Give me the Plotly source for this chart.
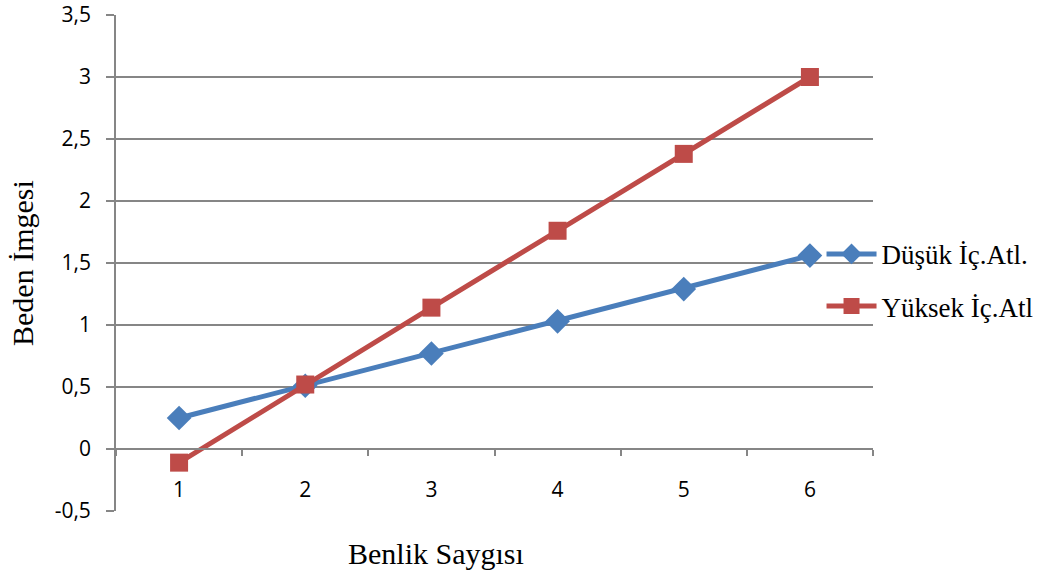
import plotly.graph_objects as go

# Benlik saygısı düzeyleri (kategoriler)
categories = ["1", "2", "3", "4", "5", "6"]

# Beden imgesi ortalamaları
dusuk_values = [0.25, 0.51, 0.77, 1.03, 1.29, 1.56]
yuksek_values = [-0.11, 0.52, 1.14, 1.76, 2.38, 3.0]

y_ticks = [-0.5, 0, 0.5, 1, 1.5, 2, 2.5, 3, 3.5]
# comma decimal separator; trailing no-break spaces keep labels clear of the tick marks
y_tick_text = [f"{v:g}".replace(".", ",") + "\u00a0\u00a0" for v in y_ticks]

BLUE = "#4A7EBB"
RED = "#BE4B48"
GRID = "#868686"
SERIF = "Liberation Serif, Times New Roman, serif"

fig = go.Figure()
fig.add_trace(go.Scatter(
    x=categories, y=dusuk_values, name="Düşük İç.Atl.",
    mode="lines+markers", legendgroup="a",
    line=dict(color=BLUE, width=5),
    marker=dict(symbol="diamond", size=19, color=BLUE),
))
fig.add_trace(go.Scatter(
    x=categories, y=yuksek_values, name="Yüksek İç.Atl",
    mode="lines+markers", legendgroup="b",
    line=dict(color=RED, width=5),
    marker=dict(symbol="square", size=18, color=RED),
))

fig.update_layout(
    width=1038, height=577,
    margin=dict(l=116, r=165, t=15, b=66, autoexpand=False),
    paper_bgcolor="white", plot_bgcolor="white",
    font=dict(family="Open Sans, Lato, sans-serif", size=21, color="#000000"),
    showlegend=True,
    legend=dict(
        x=0.932, y=0.465, xanchor="left", yanchor="middle",
        bgcolor="rgba(0,0,0,0)",
        font=dict(family=SERIF, size=27),
        tracegroupgap=14, itemwidth=50,
    ),
    xaxis=dict(
        type="category",
        anchor="free", position=0.125,
        showline=True, linecolor=GRID, linewidth=2,
        ticks="outside", tickson="boundaries", ticklen=6, tickwidth=1.5, tickcolor=GRID,
        showgrid=False, zeroline=False, automargin=False,
        ticklabelstandoff=22,
        tickfont=dict(size=21),
        range=[-0.5, 5.5],
    ),
    yaxis=dict(
        range=[-0.5, 3.5], tickvals=y_ticks, ticktext=y_tick_text,
        showline=True, linecolor=GRID, linewidth=2,
        ticks="outside", ticklen=8, tickwidth=1.5, tickcolor=GRID,
        showgrid=True, gridcolor=GRID, gridwidth=2,
        zeroline=False, automargin=False,
        tickfont=dict(size=21),
    ),
    annotations=[
        dict(
            text="Benlik Saygısı", xref="paper", yref="paper",
            x=(436 - 116) / 757, y=-0.085, xanchor="center", yanchor="middle",
            showarrow=False, font=dict(family=SERIF, size=30),
        ),
        dict(
            text="Beden İmgesi", xref="paper", yref="paper", textangle=-90,
            x=(22 - 116) / 757, y=0.5, xanchor="center", yanchor="middle",
            showarrow=False, font=dict(family=SERIF, size=30),
        ),
    ],
)

fig.write_html("out.html")
